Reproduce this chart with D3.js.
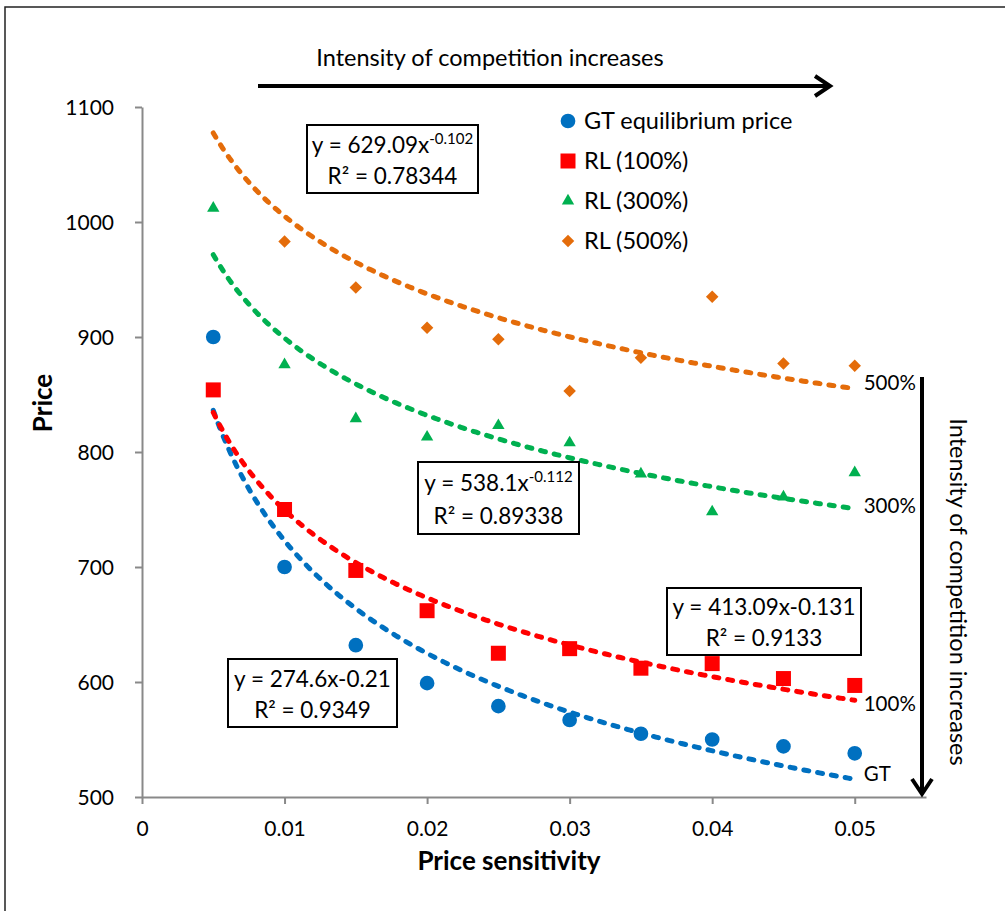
<!DOCTYPE html>
<html>
<head>
<meta charset="utf-8">
<script src="https://cdn.jsdelivr.net/npm/d3@7"></script>
<style>
  body { margin: 0; background: #fff; }
  svg { display: block; }
  text { font-family: Lato, "Open Sans", sans-serif; fill: #000; }
</style>
</head>
<body>
<svg id="chart" width="1005" height="911"></svg>
<script>
// Price sensitivity levels (x) and the observed prices of each series
const sensitivity = [0.005, 0.01, 0.015, 0.02, 0.025, 0.03, 0.035, 0.04, 0.045, 0.05];
const gtPrice     = [900, 700, 632, 599, 579, 567, 555, 550, 544, 538];
const rl100Price  = [854, 750, 697, 662, 625, 629, 612, 616, 603, 597];
const rl300Price  = [1012, 876, 829, 813, 823, 808, 781, 748, 761, 782];
const rl500Price  = [1135, 983, 943, 908, 898, 853, 882, 935, 877, 875];

const seriesNames = ["GT equilibrium price", "RL (100%)", "RL (300%)", "RL (500%)"];
const endLabels   = ["GT", "100%", "300%", "500%"];
const seriesColors = ["#0070C0", "#FF0000", "#00B050", "#E46C0A"];

const xTicks = [0, 0.01, 0.02, 0.03, 0.04, 0.05];
const yTicks = [500, 600, 700, 800, 900, 1000, 1100];

// Trendline equation labels as printed on the chart
const eqBase = ["y = 274.6x-0.21", "y = 413.09x-0.131", "y = 538.1x", "y = 629.09x"];
const eqSup  = ["", "", "-0.112", "-0.102"];
const eqR2   = ["R\u00B2 = 0.9349", "R\u00B2 = 0.9133", "R\u00B2 = 0.89338", "R\u00B2 = 0.78344"];

const arrowText = "Intensity of competition increases";

const seriesValues = [gtPrice, rl100Price, rl300Price, rl500Price];

const svg = d3.select("#chart");

// outer chart frame
svg.append("rect")
  .attr("x", 5).attr("y", 7).attr("width", 1030).attr("height", 1000)
  .attr("fill", "none").attr("stroke", "#222").attr("stroke-width", 1.5);

const x = d3.scaleLinear().domain([0, 0.055]).range([142, 926]);
const y = d3.scaleLinear().domain([500, 1100]).range([797, 107]);

// clip marks to the value range of the axes
svg.append("defs").append("clipPath").attr("id", "plotClip")
  .append("rect")
  .attr("x", x(0) - 10).attr("y", y(1100))
  .attr("width", x(0.055) - x(0) + 20).attr("height", y(500) - y(1100) + 10);

// axes
const axisColor = "#898989";
const xAxis = svg.append("g").attr("transform", `translate(0,${y(500)})`)
  .call(d3.axisBottom(x).tickValues(xTicks).tickSize(7).tickSizeOuter(0)
    .tickFormat(d => d === 0 ? "0" : d3.format(".2f")(d)));
const yAxis = svg.append("g").attr("transform", `translate(${x(0)},0)`)
  .call(d3.axisLeft(y).tickValues(yTicks).tickSize(7).tickSizeOuter(0).tickFormat(d3.format("d")));

[xAxis, yAxis].forEach(g => {
  g.select(".domain").attr("stroke", axisColor).attr("stroke-width", 2);
  g.selectAll(".tick line").attr("stroke", axisColor).attr("stroke-width", 2);
  g.selectAll(".tick text").attr("font-size", 21).attr("font-family", "Lato, sans-serif").attr("fill", "#000");
});
xAxis.selectAll(".tick text").attr("y", 32).attr("dy", "0.35em");
yAxis.selectAll(".tick text").attr("x", -28).attr("dy", "0.35em");

// axis titles
svg.append("text").attr("x", 509).attr("y", 861).attr("dy", "0.35em")
  .attr("text-anchor", "middle").attr("font-size", 26).attr("font-weight", "bold")
  .text("Price sensitivity");
svg.append("text").attr("transform", "translate(43,403) rotate(-90)").attr("dy", "0.35em")
  .attr("text-anchor", "middle").attr("font-size", 26).attr("font-weight", "bold")
  .text("Price");

// marker shapes per series
const symbolFor = [
  d3.symbol().type(d3.symbolCircle).size(170),
  d3.symbol().type(d3.symbolSquare).size(225),
  d3.symbol().type(d3.symbolTriangle).size(66),
  d3.symbol().type(d3.symbolSquare).size(78)
];
const symbolRotate = [0, 0, 0, 45];

const plot = svg.append("g").attr("clip-path", "url(#plotClip)");

// data markers
seriesValues.forEach((vals, i) => {
  plot.append("g").selectAll("path")
    .data(vals.map((v, k) => [sensitivity[k], v]))
    .join("path")
    .attr("d", symbolFor[i]())
    .attr("transform", d => `translate(${x(d[0])},${y(d[1])}) rotate(${symbolRotate[i]})`)
    .attr("fill", seriesColors[i]);
});

// least-squares power fit y = a * x^b on log-log scale
function fitPower(xs, ys) {
  const lx = xs.map(Math.log), ly = ys.map(Math.log);
  const mx = d3.mean(lx), my = d3.mean(ly);
  const b = d3.sum(lx, (v, k) => (v - mx) * (ly[k] - my)) / d3.sum(lx, v => (v - mx) ** 2);
  return { a: Math.exp(my - b * mx), b };
}

const line = d3.line().x(d => x(d[0])).y(d => y(d[1]));
const xMin = d3.min(sensitivity), xMax = d3.max(sensitivity);
const fits = seriesValues.map(vals => fitPower(sensitivity, vals));

fits.forEach((f, i) => {
  const pts = d3.range(0, 201).map(k => {
    const xv = xMin + (xMax - xMin) * k / 200;
    return [xv, f.a * Math.pow(xv, f.b)];
  });
  plot.append("path").datum(pts)
    .attr("d", line)
    .attr("fill", "none")
    .attr("stroke", seriesColors[i])
    .attr("stroke-width", 5)
    .attr("stroke-linecap", "round")
    .attr("stroke-dasharray", "5 9");
});

// labels at the right end of each trendline
const endOffsets = [-5, 4, -3, -6];
fits.forEach((f, i) => {
  svg.append("text")
    .attr("x", x(xMax) + 9)
    .attr("y", y(f.a * Math.pow(xMax, f.b)) + endOffsets[i])
    .attr("dy", "0.35em")
    .attr("font-size", 20.5)
    .text(endLabels[i]);
});

// legend
const legend = svg.append("g");
seriesNames.forEach((name, i) => {
  const ly = 121 + i * 40;
  legend.append("path")
    .attr("d", symbolFor[i]())
    .attr("transform", `translate(568,${ly}) rotate(${symbolRotate[i]})`)
    .attr("fill", seriesColors[i]);
  legend.append("text").attr("x", 584).attr("y", ly).attr("dy", "0.35em")
    .attr("font-size", 23.5).text(name);
});

// equation boxes: [left, top, width, height]
const eqBoxes = [
  [228, 659, 169, 68],
  [667, 588, 194, 67],
  [418, 462, 161, 72],
  [307, 125, 171, 68]
];
eqBoxes.forEach((bx, i) => {
  const g = svg.append("g");
  g.append("rect").attr("x", bx[0]).attr("y", bx[1]).attr("width", bx[2]).attr("height", bx[3])
    .attr("fill", "#fff").attr("stroke", "#000").attr("stroke-width", 2);
  const cx = bx[0] + bx[2] / 2;
  const t1 = g.append("text").attr("x", cx).attr("y", bx[1] + bx[3] * 0.29).attr("dy", "0.35em")
    .attr("text-anchor", "middle").attr("font-size", 22.5);
  t1.append("tspan").text(eqBase[i]);
  if (eqSup[i]) {
    t1.append("tspan").attr("font-size", 15).attr("dy", "-0.6em").text(eqSup[i]);
  }
  g.append("text").attr("x", cx).attr("y", bx[1] + bx[3] * 0.75).attr("dy", "0.35em")
    .attr("text-anchor", "middle").attr("font-size", 22.5).text(eqR2[i]);
});

// horizontal arrow with caption
svg.append("text").attr("x", 490).attr("y", 58).attr("dy", "0.35em")
  .attr("text-anchor", "middle").attr("font-size", 23.5).text(arrowText);
svg.append("line").attr("x1", 258).attr("y1", 86).attr("x2", 829).attr("y2", 86)
  .attr("stroke", "#000").attr("stroke-width", 4);
svg.append("path").attr("d", "M815,76 L830,86 L815,96")
  .attr("fill", "none").attr("stroke", "#000").attr("stroke-width", 4);

// vertical arrow with caption
svg.append("line").attr("x1", 922).attr("y1", 377).attr("x2", 922).attr("y2", 793)
  .attr("stroke", "#000").attr("stroke-width", 4);
svg.append("path").attr("d", "M912,779 L922,794 L932,779")
  .attr("fill", "none").attr("stroke", "#000").attr("stroke-width", 4);
svg.append("text").attr("transform", "translate(958,592) rotate(90)").attr("dy", "0.35em")
  .attr("text-anchor", "middle").attr("font-size", 23.5).text(arrowText);
</script>
</body>
</html>
